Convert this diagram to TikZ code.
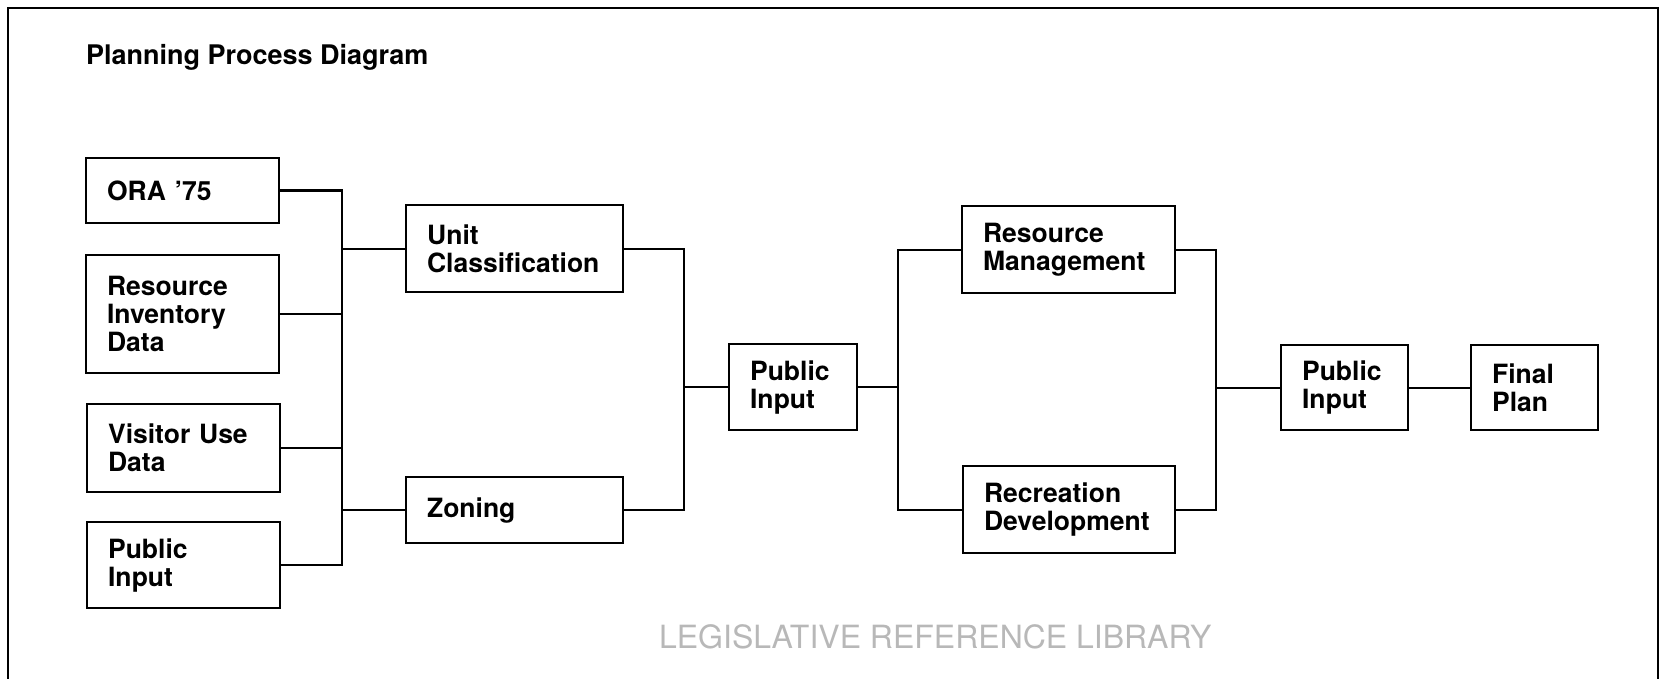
\documentclass[tikz,border=0pt]{standalone}
\usepackage{fontspec}
\setmainfont{TeX Gyre Heros}
\begin{document}
\begin{tikzpicture}[x=1pt,y=-1pt,
  every path/.style={line width=2.2pt, line join=miter},
  box/.style={draw, line width=2.2pt, anchor=north west, align=left,
    inner xsep=21pt, inner ysep=0pt,
    font=\fontsize{26.5}{28}\selectfont\bfseries},
  title/.style={anchor=base west, inner sep=0pt,
    font=\fontsize{27}{30}\selectfont\bfseries},
  stamp/.style={anchor=base west, inner sep=0pt, text=black!28,
    font=\fontsize{32}{34}\selectfont}]
\useasboundingbox (0,0) rectangle (1664,679);

% outer frame, running off the bottom of the sheet
\draw[line width=2pt] (8,679) -- (8,8) -- (1658,8) -- (1658,679);

\node[title] (ttl) at (85,65) {Planning Process Diagram};

% input column
\node[box, text width=151pt, minimum height=65pt] (ora) at (85,157) {ORA ’75};
\node[box, text width=151pt, minimum height=118pt] (rid) at (85,254) {Resource\\Inventory\\Data};
\node[box, text width=151pt, minimum height=88pt] (vis) at (86,403) {Visitor Use\\Data};
\node[box, text width=151pt, minimum height=86pt] (pil) at (86,521) {Public\\Input};

% first stage
\node[box, text width=175pt, minimum height=87pt] (unit) at (405,204) {Unit\\Classification};
\node[box, text width=175pt, minimum height=66pt] (zon) at (405,476) {Zoning};

% review
\node[box, text width=86pt, minimum height=86pt] (pim) at (728,343) {Public\\Input};

% second stage
\node[box, text width=171pt, minimum height=87pt] (rm) at (961,205) {Resource\\Management};
\node[box, text width=170pt, minimum height=87pt] (rd) at (962,465) {Recreation\\Development};

% final review and plan
\node[box, text width=85pt, minimum height=85pt] (pir) at (1280,344) {Public\\Input};
\node[box, text width=85pt, minimum height=85pt] (fin) at (1470,344) {Final\\Plan};

% bus lines
\coordinate (b1) at (342,0);
\coordinate (b2) at (684,0);
\coordinate (b3) at (898,0);
\coordinate (b4) at (1216,0);

\draw (ora.east) -- (ora.east -| b1) -- (pil.east -| b1) -- (pil.east);
\draw (rid.east) -- (rid.east -| b1);
\draw (vis.east) -- (vis.east -| b1);
\draw (unit.west) -- (unit.west -| b1);
\draw (zon.west) -- (zon.west -| b1);

\draw (unit.east) -- (unit.east -| b2) -- (zon.east -| b2) -- (zon.east);
\draw (pim.west) -- (pim.west -| b2);

\draw (rm.west) -- (rm.west -| b3) -- (rd.west -| b3) -- (rd.west);
\draw (pim.east) -- (pim.east -| b3);

\draw (rm.east) -- (rm.east -| b4) -- (rd.east -| b4) -- (rd.east);
\draw (pir.west) -- (pir.west -| b4);

\draw (pir.east) -- (fin.west);

% library stamp
\node[stamp] (stp) at (658,648) {LEGISLATIVE REFERENCE LIBRARY};
\end{tikzpicture}
\end{document}
